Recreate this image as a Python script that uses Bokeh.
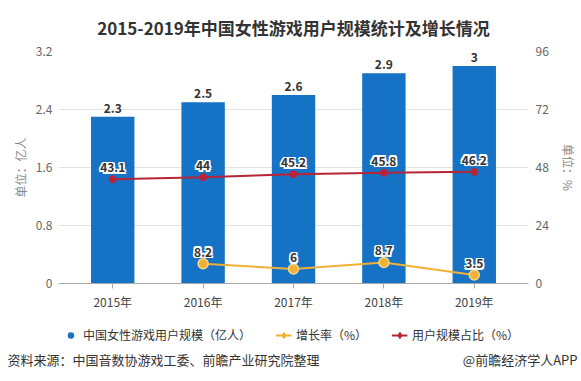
from bokeh.plotting import figure
from bokeh.models import (Range1d, FactorRange, LinearAxis, Legend, LegendItem,
                          Label, ColumnDataSource, FixedTicker)
from bokeh.core.properties import value
from bokeh.embed import file_html
from bokeh.resources import INLINE

years = ["2015年", "2016年", "2017年", "2018年", "2019年"]
users = [2.3, 2.5, 2.6, 2.9, 3.0]
user_labels = ["2.3", "2.5", "2.6", "2.9", "3"]
growth = [float("nan"), 8.2, 6.0, 8.7, 3.5]
growth_labels = ["", "8.2", "6", "8.7", "3.5"]
share = [43.1, 44.0, 45.2, 45.8, 46.2]
share_labels = ["43.1", "44", "45.2", "45.8", "46.2"]
left_ticks = [0, 0.8, 1.6, 2.4, 3.2]
right_ticks = [0, 24, 48, 72, 96]

FONT = "Noto Sans CJK SC"
BLUE = "#1672c4"
GOLD = "#f2b134"
RED = "#b92537"

p = figure(frame_width=470, frame_height=232, output_backend="svg", toolbar_location=None,
           x_range=FactorRange(*years, range_padding=0.04),
           y_range=Range1d(0, 3.2),
           min_border_left=58, min_border_right=53, min_border_top=51, min_border_bottom=26)
p.extra_y_ranges = {"pct": Range1d(0, 96)}
p.outline_line_color = None
p.xgrid.grid_line_color = None
p.ygrid.grid_line_color = "#e3e3e3"
p.ygrid.ticker = FixedTicker(ticks=left_ticks)

p.title.text = "2015-2019年中国女性游戏用户规模统计及增长情况"
p.title.align = "center"
p.title.offset = -2
p.title.standoff = 23
p.title.text_font = FONT
p.title.text_font_size = "17px"
p.title.text_font_style = "bold"
p.title.text_color = "#333333"

# left axis
p.yaxis.ticker = FixedTicker(ticks=left_ticks)
p.yaxis.axis_line_color = None
p.yaxis.major_tick_line_color = None
p.yaxis.major_tick_out = 0
p.yaxis.minor_tick_line_color = None
p.yaxis.major_label_standoff = 6
p.yaxis.major_label_text_color = "#666666"
p.yaxis.major_label_text_font = FONT
p.yaxis.major_label_text_font_size = "12px"
p.yaxis.axis_label = "单位：亿人"
p.yaxis.axis_label_text_font = FONT
p.yaxis.axis_label_text_font_size = "12px"
p.yaxis.axis_label_text_font_style = "normal"
p.yaxis.axis_label_text_color = "#888888"
p.yaxis.axis_label_standoff = 4

# right axis
ra = LinearAxis(y_range_name="pct", ticker=FixedTicker(ticks=right_ticks))
ra.axis_line_color = None
ra.major_tick_line_color = None
ra.major_tick_out = 0
ra.minor_tick_line_color = None
ra.major_label_standoff = 7
ra.major_label_text_color = "#666666"
ra.major_label_text_font = FONT
ra.major_label_text_font_size = "12px"
ra.axis_label = "单位：%"
ra.axis_label_text_font = FONT
ra.axis_label_text_font_size = "12px"
ra.axis_label_text_font_style = "normal"
ra.axis_label_text_color = "#888888"
ra.axis_label_standoff = 8
p.add_layout(ra, "right")

p.xaxis.axis_line_color = "#aaaaaa"
p.xaxis.major_tick_line_color = "#aaaaaa"
p.xaxis.major_tick_in = 0
p.xaxis.major_tick_out = 5
p.xaxis.major_label_standoff = 4
p.xaxis.major_label_text_color = "#444444"
p.xaxis.major_label_text_font = FONT
p.xaxis.major_label_text_font_size = "12px"

src = ColumnDataSource(dict(x=years, users=users, ul=user_labels, growth=growth,
                            gl=growth_labels, share=share, sl=share_labels))

p.vbar(x="x", top="users", width=0.48, source=src, fill_color=BLUE, line_color=None)
p.text(x="x", y="users", text="ul", source=src, text_align="center", text_baseline="bottom",
       y_offset=-4, text_font=value(FONT), text_font_size="12px", text_font_style="bold",
       text_color="#333333")

p.line(x="x", y="share", source=src, y_range_name="pct", line_color=RED, line_width=2)
p.scatter(x="x", y="share", source=src, y_range_name="pct", marker="circle", size=7,
          fill_color=RED, line_color=RED)

p.line(x="x", y="growth", source=src, y_range_name="pct", line_color=GOLD, line_width=2)
p.scatter(x="x", y="growth", source=src, y_range_name="pct", marker="circle", size=10,
          fill_color=GOLD, line_color="#f7d88a", line_width=1.5)


def halo_text(ycol, tcol):
    for dx in (-1.5, 0, 1.5):
        for dy in (-1.5, 0, 1.5):
            if dx == 0 and dy == 0:
                continue
            p.text(x="x", y=ycol, text=tcol, source=src, y_range_name="pct",
                   text_align="center", text_baseline="bottom", x_offset=dx, y_offset=-7 + dy,
                   text_font=value(FONT), text_font_size="12px", text_font_style="bold",
                   text_color="white")
    p.text(x="x", y=ycol, text=tcol, source=src, y_range_name="pct",
           text_align="center", text_baseline="bottom", y_offset=-7,
           text_font=value(FONT), text_font_size="12px", text_font_style="bold",
           text_color="#333333")


halo_text("share", "sl")
halo_text("growth", "gl")

# footer figure: legend + source line (separate root, so no frame alignment)
f = figure(width=581, height=72, output_backend="svg", toolbar_location=None,
           x_range=Range1d(0, 1), y_range=Range1d(0, 1),
           x_axis_location=None, y_axis_location=None,
           min_border=0, outline_line_color=None)
f.grid.visible = False

proxy = ColumnDataSource(dict(x=[float("nan")], y=[float("nan")]))
lb = f.scatter(x="x", y="y", source=proxy, marker="circle", size=14, fill_color=BLUE, line_color=None)
lgl = f.line(x="x", y="y", source=proxy, line_color=GOLD, line_width=2)
lgm = f.scatter(x="x", y="y", source=proxy, marker="diamond", size=11, fill_color=GOLD, line_color=GOLD)
lrl = f.line(x="x", y="y", source=proxy, line_color=RED, line_width=2)
lrm = f.scatter(x="x", y="y", source=proxy, marker="diamond", size=11, fill_color=RED, line_color=RED)

legend = Legend(items=[
    LegendItem(label="中国女性游戏用户规模（亿人）", renderers=[lb]),
    LegendItem(label="增长率（%）", renderers=[lgl, lgm]),
    LegendItem(label="用户规模占比（%）", renderers=[lrl, lrm]),
], orientation="horizontal", location="top_center", padding=0, margin=14, spacing=24,
    label_text_font=FONT, label_text_font_size="12px", label_text_color="#333333",
    border_line_color=None, background_fill_alpha=0, glyph_width=16, glyph_height=16,
    label_standoff=5, label_height=16)
f.add_layout(legend)

f.add_layout(Label(x=7, y=25, x_units="screen", y_units="screen",
                   text="资料来源：中国音数协游戏工委、前瞻产业研究院整理",
                   text_align="left", text_baseline="middle", text_font=FONT,
                   text_font_size="13px", text_color="#333333"))
f.add_layout(Label(x=577, y=25, x_units="screen", y_units="screen",
                   text="@前瞻经济学人APP",
                   text_align="right", text_baseline="middle", text_font=FONT,
                   text_font_size="13px", text_color="#333333"))

open("out.html", "w").write(file_html([p, f], INLINE))
